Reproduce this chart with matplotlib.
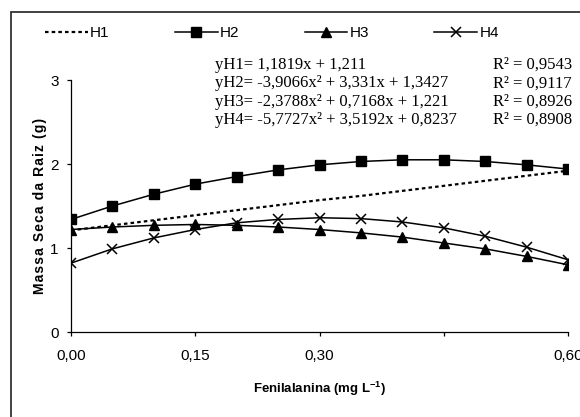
import matplotlib
matplotlib.use("Agg")
import matplotlib.pyplot as plt
from matplotlib.patches import Rectangle

# fenilalanina doses (mg/L) and root dry mass for each treatment
doses = [0.00, 0.05, 0.10, 0.15, 0.20, 0.25, 0.30, 0.35, 0.40, 0.45, 0.50, 0.55, 0.60]
h1 = [1.21, 1.27, 1.33, 1.39, 1.45, 1.51, 1.57, 1.62, 1.68, 1.74, 1.80, 1.86, 1.92]
h2 = [1.34, 1.50, 1.64, 1.76, 1.85, 1.93, 1.99, 2.03, 2.05, 2.05, 2.03, 1.99, 1.94]
h3 = [1.22, 1.25, 1.27, 1.28, 1.27, 1.25, 1.22, 1.18, 1.13, 1.06, 0.99, 0.90, 0.80]
h4 = [0.82, 0.99, 1.12, 1.22, 1.30, 1.34, 1.36, 1.35, 1.31, 1.24, 1.14, 1.01, 0.86]

x_ticks = [0.00, 0.15, 0.30, 0.45, 0.60]
x_tick_labels = ["0,00", "0,15", "0,30", "", "0,60"]
y_ticks = [0, 1, 2, 3]

equations = [
    "yH1= 1,1819x + 1,211",
    "yH2= -3,9066x² + 3,331x + 1,3427",
    "yH3= -2,3788x² + 0,7168x + 1,221",
    "yH4= -5,7727x² + 3,5192x + 0,8237",
]
r2_values = ["0,9543", "0,9117", "0,8926", "0,8908"]

SANS = ["Liberation Sans Narrow", "Liberation Sans", "DejaVu Sans"]
SERIF = ["Liberation Serif", "DejaVu Serif"]

plt.rcParams["font.family"] = SANS
plt.rcParams["mathtext.fontset"] = "custom"
plt.rcParams["mathtext.rm"] = "Liberation Sans:bold"
plt.rcParams["mathtext.default"] = "rm"

fig = plt.figure(figsize=(5.8, 4.17), dpi=100)
fig.patch.set_facecolor("white")

# outer chart frame (runs off the right and bottom edges)
fig.patches.append(Rectangle((11 / 580, -0.05), 1.2, 1 - 12 / 417 + 0.05,
                             transform=fig.transFigure, fill=False,
                             ec="#333333", lw=1.3))

ax = fig.add_axes([71 / 580, 1 - 332 / 417, (568 - 71) / 580, (332 - 80) / 417])
ax.set_facecolor("none")

ax.plot(doses, h1, color="black", lw=1.6, ls=(0, (1.6, 1.4)), label="H1")
ax.plot(doses, h2, color="black", lw=1.1, marker="s", ms=6.5, label="H2")
ax.plot(doses, h3, color="black", lw=1.1, marker="^", ms=7, label="H3")
ax.plot(doses, h4, color="black", lw=1.1, marker="x", ms=7, mew=1.1, label="H4")

ax.set_xlim(0, 0.6)
ax.set_ylim(0, 3)
ax.set_xticks(x_ticks)
ax.set_xticklabels(x_tick_labels)
ax.set_yticks(y_ticks)
for side in ("top", "right"):
    ax.spines[side].set_visible(False)
for side in ("left", "bottom"):
    ax.spines[side].set_linewidth(0.9)
ax.tick_params(direction="out", length=3, width=0.9, labelsize=11, pad=6)
ax.tick_params(axis="x", pad=9)

ax.set_xlabel("Fenilalanina (mg L$^{-1}$)", fontsize=9.5, fontweight="bold",
              labelpad=12)
# hair spaces between letters give the spaced-out look of the axis title
ylab = "\u200a".join("Massa Seca da Raiz (g)")
ax.set_ylabel(ylab, fontsize=10, fontweight="bold", labelpad=2)

for i, (eq, r2) in enumerate(zip(equations, r2_values)):
    yy = 1 - (65 + 18.3 * i) / 417
    fig.text(215 / 580, yy, eq, family=SERIF, fontsize=12, va="center", ha="left")
    fig.text(493 / 580, yy, "R² = " + r2, family=SERIF, fontsize=12,
             va="center", ha="left")

fig.legend(loc="center left", bbox_to_anchor=(45 / 580, 1 - 33 / 417), ncol=4,
           frameon=False, fontsize=11, borderpad=0, borderaxespad=0,
           handlelength=2.8, handletextpad=0.15, columnspacing=4.27)

fig.savefig("out.png", dpi=100)
